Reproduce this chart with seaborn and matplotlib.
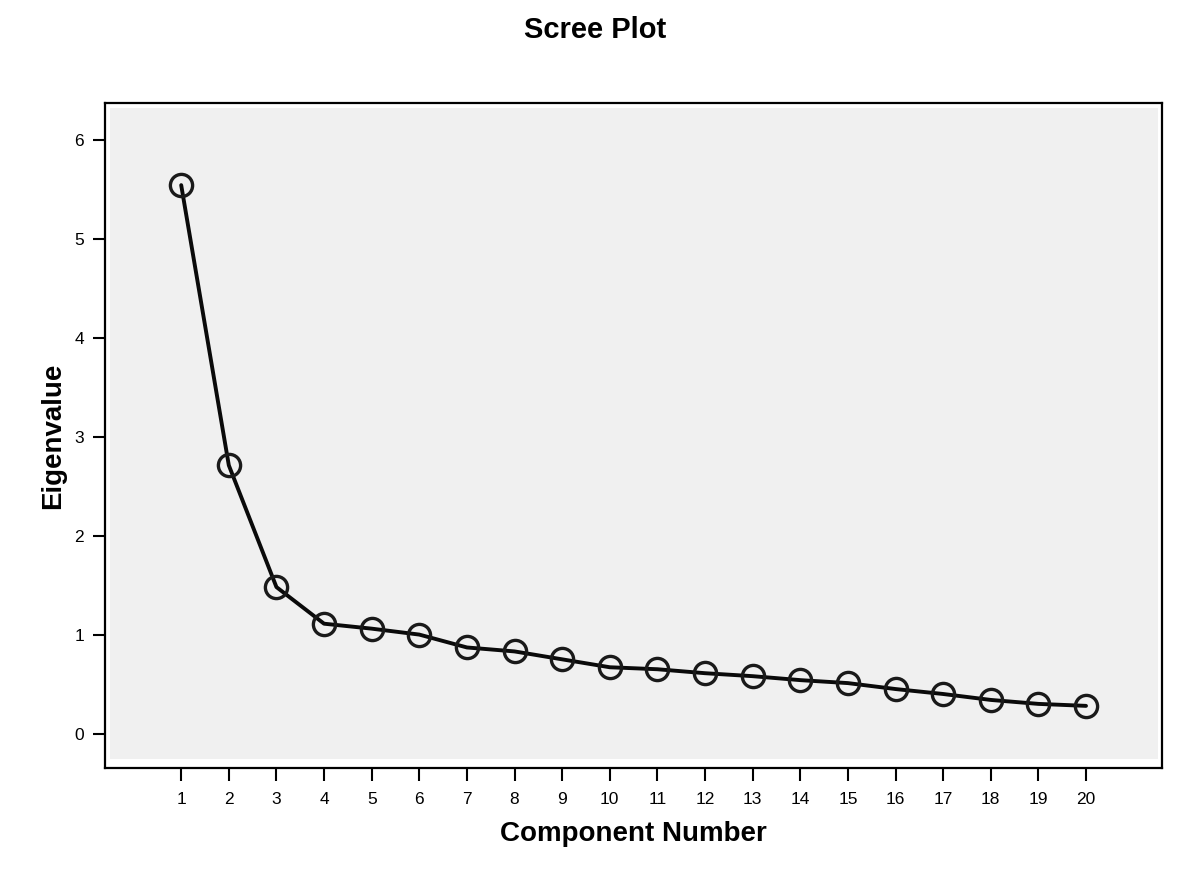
import pandas as pd
import matplotlib
matplotlib.use("Agg")
import matplotlib.pyplot as plt
import seaborn as sns
from matplotlib.patches import Rectangle

sns.set_style("white")
plt.rcParams["font.family"] = ["Liberation Sans", "DejaVu Sans"]
plt.rcParams["text.color"] = "black"
plt.rcParams["axes.labelcolor"] = "black"
plt.rcParams["xtick.color"] = "black"
plt.rcParams["ytick.color"] = "black"

# ---------- data ----------
components = list(range(1, 21))
eigenvalues = [5.54, 2.71, 1.48, 1.11, 1.06, 1.00, 0.87, 0.83, 0.75, 0.67,
               0.65, 0.61, 0.58, 0.54, 0.51, 0.45, 0.40, 0.34, 0.30, 0.28]
y_ticks = [0, 1, 2, 3, 4, 5, 6]

df = pd.DataFrame({"component": components, "eigenvalue": eigenvalues})

fig = plt.figure(figsize=(12, 8.8), dpi=100)
ax = fig.add_axes([0.0875, 0.127, 0.881, 0.756])
ax.set_facecolor("white")

# inset grey panel like the SPSS chart area
ax.add_patch(Rectangle((0.005, 0.014), 0.991, 0.978, transform=ax.transAxes,
                       facecolor="#f0f0f0", edgecolor="none", zorder=0))

sns.lineplot(data=df, x="component", y="eigenvalue", ax=ax, color="#0a0a0a",
             linewidth=2.8, marker="o", markersize=16, markerfacecolor="none",
             markeredgecolor="#1a1a1a", markeredgewidth=2.4, zorder=3)

ax.set_xlim(-0.6, 21.6)
ax.set_ylim(-0.35, 6.37)
ax.set_xticks(components)
ax.set_yticks(y_ticks)
ax.tick_params(axis="both", direction="out", length=9, width=1.5,
               labelsize=12.5, color="black", labelcolor="black",
               left=True, bottom=True)
ax.tick_params(axis="x", pad=8)
ax.tick_params(axis="y", pad=6)

for s in ax.spines.values():
    s.set_visible(True)
    s.set_color("black")
    s.set_linewidth(1.6)

ax.set_xlabel("Component Number", fontsize=20, fontweight="bold", labelpad=10)
ax.set_ylabel("Eigenvalue", fontsize=20, fontweight="bold", labelpad=6)
fig.text(0.496, 0.966, "Scree Plot", ha="center", va="center",
         fontsize=21, fontweight="bold")

plt.savefig("out.png", dpi=100)
plt.close()
